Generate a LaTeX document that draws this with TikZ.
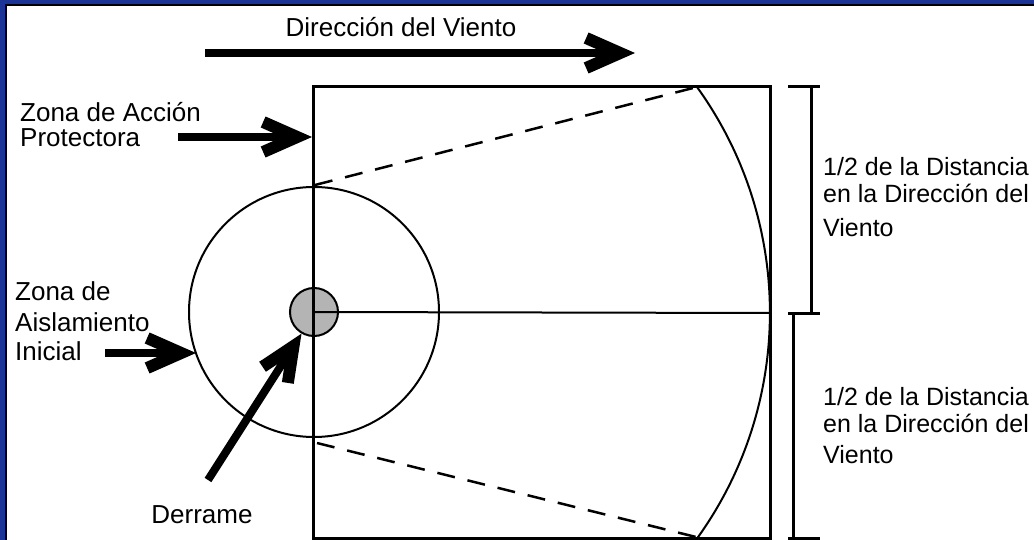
\documentclass[tikz,border=0pt]{standalone}
\usepackage{fontspec}
\setmainfont{Liberation Sans}
\usetikzlibrary{arrows.meta}
\definecolor{frameblue}{RGB}{28,52,150}
\definecolor{spillgrey}{RGB}{180,180,180}
\tikzset{
  fat/.style={line width=8pt,-{Straight Barb[length=34pt,width=30pt,line width=12pt]}},
  zone/.style={line width=2pt},
  box/.style={line width=3pt},
  dashzone/.style={line width=2.5pt,dash pattern=on 18pt off 13pt},
  txt/.style={font=\fontsize{26}{27}\selectfont,inner sep=0pt,align=left},
  sidetxt/.style={txt,font=\fontsize{25}{27}\selectfont},
  spillnode/.style={circle,draw,fill=spillgrey,line width=2pt,minimum size=48pt,inner sep=0pt}
}
\begin{document}
\begin{tikzpicture}[x=1pt,y=-1pt]
\useasboundingbox (0,0) rectangle (1034,540);
% frame
\fill[frameblue] (0,0) rectangle (1034,6);
\fill[frameblue] (0,0) rectangle (7,540);
\draw[line width=2pt] (6,540) -- (6,5) -- (1034,5);
% points of the plan
\coordinate (nw) at (313,87);
\coordinate (se) at (770,538);
\coordinate (east) at (770,313);
\coordinate (dashA) at (315,185);
\coordinate (dashB) at (697,87);
\coordinate (dashC) at (317,443);
\coordinate (dashD) at (700,538);
\node[spillnode] (spot) at (314,312) {};
\draw[zone] (spot.center) circle[radius=125];
\draw[box] (nw) rectangle (se);
\draw[zone] (spot.center) -- (east);
\draw[dashzone] (dashA) -- (dashB) (dashC) -- (dashD);
\draw[zone] (dashB) arc[start angle=-35.8,end angle=35.8,radius=386];
% brackets
\draw[box] (788,87) -- (820,87) (811,87) -- (811,313)
  (788,313) -- (820,313) (793,313) -- (793,538) (788,538) -- (820,538);
% labels (base = last line)
\node[txt,anchor=base] (wind) at (401,37) {Dirección del Viento};
\node[txt,anchor=base west,font=\fontsize{26}{25}\selectfont] (zap) at (20,147) {Zona de Acción\\Protectora};
\node[txt,anchor=base west] (zai) at (15,360) {Zona de\\[4pt]Aislamiento\\[2pt]Inicial};
\node[sidetxt,anchor=base west] (half1) at (823,237) {1/2 de la Distancia\\en la Dirección del\\[8pt]Viento};
\node[sidetxt,anchor=base west] (half2) at (823,463) {1/2 de la Distancia\\en la Dirección del\\[4pt]Viento};
\node[txt,anchor=base] (derrame) at (202,523) {Derrame};
% arrows
\coordinate (w0) at (205,53);
\coordinate (w1) at (635,53);
\coordinate (p0) at (178,137);
\coordinate (p1) at (312,137);
\coordinate (i0) at (105,353);
\coordinate (i1) at (196,353);
\coordinate (d0) at (208,480);
\draw[fat] (w0) -- (w1);
\draw[fat] (p0) -- (p1);
\draw[fat] (i0) -- (i1);
\draw[fat] (d0) -- (spot.240);
\end{tikzpicture}
\end{document}
